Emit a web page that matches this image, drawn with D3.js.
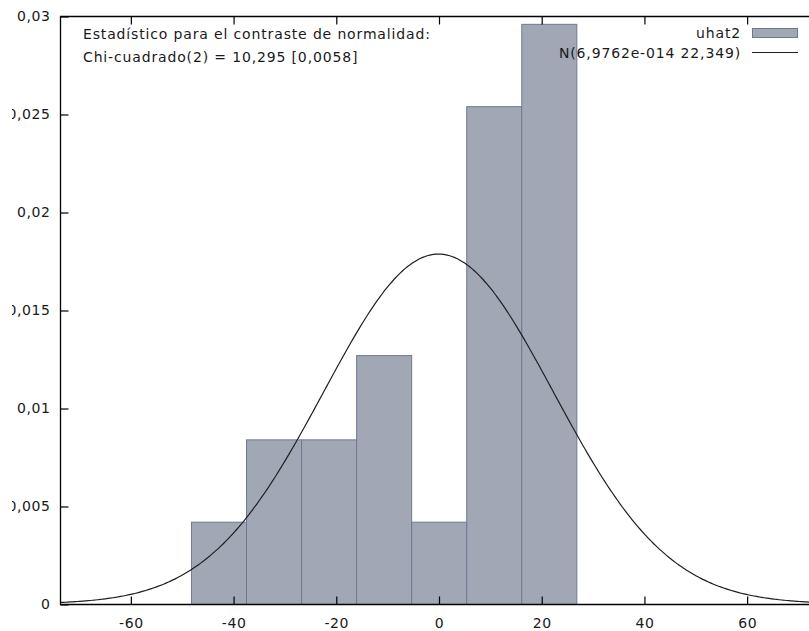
<!DOCTYPE html>
<html>
<head>
<meta charset="utf-8">
<script src="https://cdn.jsdelivr.net/npm/d3@7"></script>
<style>
  html, body { margin: 0; padding: 0; background: #fff; overflow: hidden; }
  svg { display: block; }
  text { font-family: "DejaVu Sans", Verdana, sans-serif; fill: #1a1a1a; }
</style>
</head>
<body>
<svg id="chart" width="809" height="631"></svg>
<script>
// Histogram bins of uhat2 (left edges, common width) and their densities
const binStarts = [-48.2, -37.48, -26.76, -16.04, -5.32, 5.4, 16.12];
const binWidth = 10.72;
const densities = [0.0042, 0.0084, 0.0084, 0.0127, 0.0042, 0.0254, 0.0296];

// Fitted normal distribution parameters shown in the legend
const normMean = 6.9762e-14;
const normSd = 22.349;

// Axis ticks
const xTicks = [-60, -40, -20, 0, 20, 40, 60];
const yTicks = [0, 0.005, 0.01, 0.015, 0.02, 0.025, 0.03];
const yTickLabels = ["0", "0,005", "0,01", "0,015", "0,02", "0,025", "0,03"];

// Text
const testTitle = "Estadístico para el contraste de normalidad:";
const testValue = "Chi-cuadrado(2) = 10,295 [0,0058]";
const seriesName = "uhat2";
const curveName = "N(6,9762e-014 22,349)";

const barFill = "#a1a7b5";
const barStroke = "#6f7a92";

const svg = d3.select("#chart");
const plotLeft = 60, plotTop = 16, plotBottom = 604, plotRight = 817;

// The canvas is trimmed on the left, cutting into the widest y labels
svg.append("defs").append("clipPath").attr("id", "canvasClip")
  .append("rect").attr("x", 12).attr("y", 0).attr("width", 797).attr("height", 631);

const x = d3.scaleLinear().domain([-73.7, 73.7]).range([plotLeft, plotRight]);
const y = d3.scaleLinear().domain([0, 0.03]).range([plotBottom, plotTop]);

// Bars
svg.append("g").selectAll("rect")
  .data(binStarts.map((s, i) => ({ s, d: densities[i] })))
  .join("rect")
  .attr("x", d => x(d.s) + 0.5)
  .attr("y", d => y(d.d) + 0.5)
  .attr("width", d => x(d.s + binWidth) - x(d.s))
  .attr("height", d => y(0) - y(d.d))
  .attr("fill", barFill)
  .attr("stroke", barStroke)
  .attr("stroke-width", 1);

// Normal density curve
const pdf = v => Math.exp(-0.5 * ((v - normMean) / normSd) ** 2) / (normSd * Math.sqrt(2 * Math.PI));
const curveXs = d3.range(0, 301).map(i => -73.7 + i * (147.4 / 300));
svg.append("path")
  .datum(curveXs)
  .attr("d", d3.line().x(v => x(v)).y(v => y(pdf(v))).curve(d3.curveMonotoneX))
  .attr("fill", "none")
  .attr("stroke", "#1f1f1f")
  .attr("stroke-width", 1.2);

// Frame
svg.append("path")
  .attr("d", `M${plotRight},${plotTop + 0.5}H${plotLeft + 0.5}V${plotBottom + 0.5}H${plotRight}`)
  .attr("fill", "none")
  .attr("stroke", "#000")
  .attr("stroke-width", 1.3);

// Bottom axis: inward ticks and labels
const xAxis = d3.axisBottom(x).tickValues(xTicks).tickSize(-8).tickPadding(14).tickFormat(d => d);
const gx = svg.append("g").attr("transform", `translate(0.5,${plotBottom + 0.5})`).call(xAxis);
gx.select(".domain").remove();
gx.selectAll(".tick line").attr("stroke", "#000").attr("stroke-width", 1.2);
gx.selectAll(".tick text").attr("font-size", 14).attr("font-family", "DejaVu Sans")
  .attr("letter-spacing", 0.6).attr("fill", "#1a1a1a");

// Top axis mirror ticks
const xTop = d3.axisTop(x).tickValues(xTicks).tickSize(-8).tickFormat("");
const gt = svg.append("g").attr("transform", `translate(0.5,${plotTop + 0.5})`).call(xTop);
gt.select(".domain").remove();
gt.selectAll(".tick line").attr("stroke", "#000").attr("stroke-width", 1.2);

// Left axis
const yAxis = d3.axisLeft(y).tickValues(yTicks).tickSize(-8).tickPadding(10)
  .tickFormat((d, i) => yTickLabels[i]);
const gy = svg.append("g").attr("clip-path", "url(#canvasClip)")
  .append("g").attr("transform", `translate(${plotLeft + 0.5},0.5)`).call(yAxis);
gy.select(".domain").remove();
gy.selectAll(".tick line").attr("stroke", "#000").attr("stroke-width", 1.2);
gy.selectAll(".tick text").attr("font-size", 14).attr("font-family", "DejaVu Sans")
  .attr("letter-spacing", 0.6).attr("fill", "#1a1a1a");

// Test statistic text
const noteFont = 14, noteSpacing = 0.85;
svg.append("text").attr("x", 83).attr("y", 39).attr("font-size", noteFont)
  .attr("letter-spacing", noteSpacing).text(testTitle);
svg.append("text").attr("x", 83).attr("y", 62).attr("font-size", noteFont)
  .attr("letter-spacing", noteSpacing).text(testValue);

// Legend
svg.append("text").attr("x", 741).attr("y", 38).attr("text-anchor", "end").attr("font-size", noteFont)
  .attr("letter-spacing", noteSpacing).text(seriesName);
svg.append("rect").attr("x", 752.5).attr("y", 28.5).attr("width", 45).attr("height", 9)
  .attr("fill", barFill).attr("stroke", barStroke).attr("stroke-width", 1);
svg.append("text").attr("x", 741).attr("y", 58).attr("text-anchor", "end").attr("font-size", noteFont)
  .attr("letter-spacing", noteSpacing).text(curveName);
svg.append("line").attr("x1", 752).attr("x2", 798).attr("y1", 52.5).attr("y2", 52.5)
  .attr("stroke", "#1f1f1f").attr("stroke-width", 1.2);
</script>
</body>
</html>
